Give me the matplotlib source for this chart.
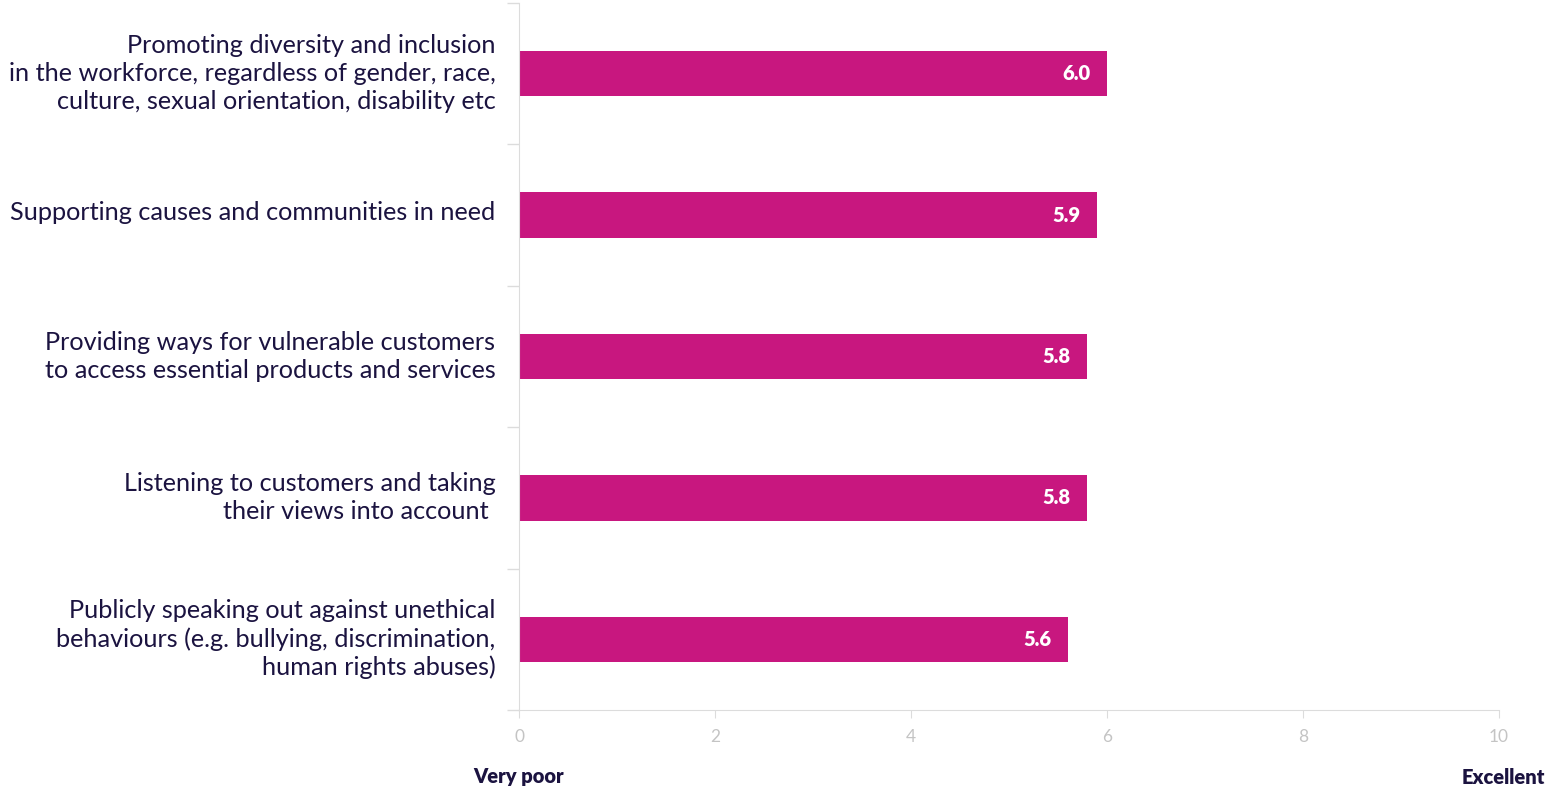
import matplotlib.pyplot as plt
import matplotlib.transforms as mtransforms

plt.rcParams['font.family'] = ['Lato', 'DejaVu Sans']

categories = [
    "Promoting diversity and inclusion\nin the workforce, regardless of gender, race,\nculture, sexual orientation, disability etc",
    "Supporting causes and communities in need",
    "Providing ways for vulnerable customers\nto access essential products and services",
    "Listening to customers and taking\ntheir views into account ",
    "Publicly speaking out against unethical\nbehaviours (e.g. bullying, discrimination,\nhuman rights abuses)",
]
scores = [6.0, 5.9, 5.8, 5.8, 5.6]
xticks = [0, 2, 4, 6, 8, 10]

bar_color = '#c8177f'
text_color = '#1b1340'
grid_color = '#dcdcdc'

fig = plt.figure(figsize=(15.49, 7.89), dpi=100)
ax = fig.add_axes([0.3351, 0.1001, 0.6326, 0.8961])

pos = list(range(len(categories)))
ax.barh(pos, scores, height=0.32, color=bar_color, zorder=2)

for y, v in zip(pos, scores):
    ax.text(v - 0.17, y, f"{v:.1f}", ha='right', va='center',
            color='white', fontsize=14.5, fontweight='heavy')

ax.set_xlim(0, 10)
ax.set_ylim(len(categories) - 0.5, -0.5)
ax.set_xticks(xticks)
ax.set_xticklabels([str(t) for t in xticks])

# category labels sit on the band centres, tick marks on the band edges
ax.set_yticks(pos)
ax.set_yticklabels(categories, fontsize=18.2, color=text_color, linespacing=1.25)
ax.tick_params(axis='y', length=0, pad=17)
ax.set_yticks([p - 0.5 for p in range(len(categories) + 1)], minor=True)
ax.tick_params(axis='y', which='minor', length=9, color=grid_color, width=1)
ax.tick_params(axis='x', length=6, color=grid_color, labelcolor='#c4c4c4',
               labelsize=12.5, pad=8)

# nudge the category labels up a little
shift = mtransforms.ScaledTranslation(0, 0.045, fig.dpi_scale_trans)
for lbl in ax.get_yticklabels():
    lbl.set_transform(lbl.get_transform() + shift)

for side in ['top', 'right']:
    ax.spines[side].set_visible(False)
ax.spines['left'].set_color(grid_color)
ax.spines['bottom'].set_color(grid_color)

fig.text(519 / 1549, 1 - 777 / 789, "Very poor", ha='center', va='center',
         fontsize=14.5, fontweight='heavy', color=text_color)
fig.text(1545 / 1549, 1 - 777 / 789, "Excellent", ha='right', va='center',
         fontsize=14.5, fontweight='heavy', color=text_color)

fig.savefig('out.png', dpi=100)
